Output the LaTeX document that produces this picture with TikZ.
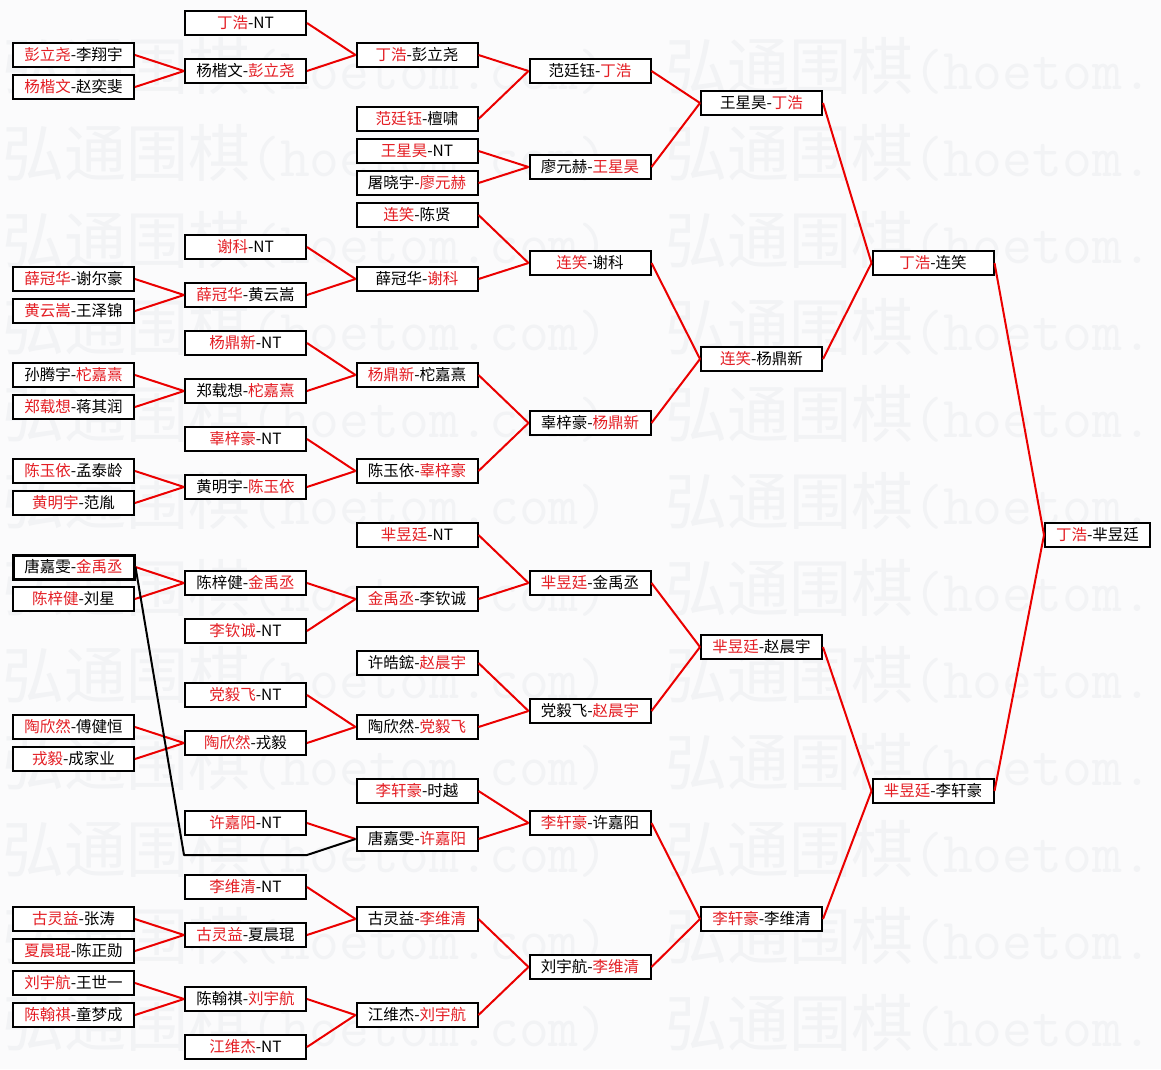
\documentclass[tikz,border=0pt]{standalone}
\usepackage{fontspec}
\setmainfont{Noto Sans CJK SC}
\newfontfamily\wmcjk{Noto Sans CJK SC}
\definecolor{wr}{RGB}{228,30,36}
\definecolor{ln}{RGB}{235,0,0}
\definecolor{wmc}{RGB}{242,243,245}
\definecolor{bgc}{RGB}{251,251,252}
\newcommand\rd[1]{\textcolor{wr}{#1}}
\newcommand\wmfull{{\wmcjk\fontsize{62}{62}\selectfont 弘通围棋\ttfamily\fontsize{58}{58}\selectfont(hoetom.com)}}
\newcommand\wmpart{{\wmcjk\fontsize{62}{62}\selectfont 弘通围棋\ttfamily\fontsize{58}{58}\selectfont(hoetom.}}
\begin{document}
\begin{tikzpicture}[x=1pt,y=-1pt,
  box/.style={draw=black, line width=2pt, fill=white, minimum width=121pt, minimum height=24pt, inner sep=0pt, font=\fontsize{15.5}{15.5}\selectfont},
  thickbox/.style={box, line width=3pt},
  finalbox/.style={box, minimum width=105pt},
  con/.style={draw=ln, line width=2pt, line join=round},
  lose/.style={draw=black, line width=2pt, line join=round},
  wm/.style={text=wmc, anchor=west, inner sep=0pt}]
\useasboundingbox[fill=bgc] (0,0) rectangle (1161,1069);
% watermark
\foreach \ii in {0,...,11}{
  \node[wm] (wml-\ii) at (2,{66+87*\ii}) {\wmfull};
  \node[wm] (wmr-\ii) at (665,{66+87*\ii}) {\wmpart};
}
% column 1
\node[box] (a1) at (73.5,55) {\rd{彭立尧}-李翔宇};
\node[box] (a2) at (73.5,87) {\rd{杨楷文}-赵奕斐};
\node[box] (a3) at (73.5,279) {\rd{薛冠华}-谢尔豪};
\node[box] (a4) at (73.5,311) {\rd{黄云嵩}-王泽锦};
\node[box] (a5) at (73.5,375) {孙腾宇-\rd{柁嘉熹}};
\node[box] (a6) at (73.5,407) {\rd{郑载想}-蒋其润};
\node[box] (a7) at (73.5,471) {\rd{陈玉依}-孟泰龄};
\node[box] (a8) at (73.5,503) {\rd{黄明宇}-范胤};
\node[thickbox] (a9) at (73.5,567) {唐嘉雯-\rd{金禹丞}};
\node[box] (a10) at (73.5,599) {\rd{陈梓健}-刘星};
\node[box] (a11) at (73.5,727) {\rd{陶欣然}-傅健恒};
\node[box] (a12) at (73.5,759) {\rd{戎毅}-成家业};
\node[box] (a13) at (73.5,919) {\rd{古灵益}-张涛};
\node[box] (a14) at (73.5,951) {\rd{夏晨琨}-陈正勋};
\node[box] (a15) at (73.5,983) {\rd{刘宇航}-王世一};
\node[box] (a16) at (73.5,1015) {\rd{陈翰祺}-童梦成};
% column 2
\node[box] (b1) at (245.5,23) {\rd{丁浩}-NT};
\node[box] (b2) at (245.5,71) {杨楷文-\rd{彭立尧}};
\node[box] (b3) at (245.5,247) {\rd{谢科}-NT};
\node[box] (b4) at (245.5,295) {\rd{薛冠华}-黄云嵩};
\node[box] (b5) at (245.5,343) {\rd{杨鼎新}-NT};
\node[box] (b6) at (245.5,391) {郑载想-\rd{柁嘉熹}};
\node[box] (b7) at (245.5,439) {\rd{辜梓豪}-NT};
\node[box] (b8) at (245.5,487) {黄明宇-\rd{陈玉依}};
\node[box] (b9) at (245.5,583) {陈梓健-\rd{金禹丞}};
\node[box] (b10) at (245.5,631) {\rd{李钦诚}-NT};
\node[box] (b11) at (245.5,695) {\rd{党毅飞}-NT};
\node[box] (b12) at (245.5,743) {\rd{陶欣然}-戎毅};
\node[box] (b13) at (245.5,823) {\rd{许嘉阳}-NT};
\node[box] (b14) at (245.5,887) {\rd{李维清}-NT};
\node[box] (b15) at (245.5,935) {\rd{古灵益}-夏晨琨};
\node[box] (b16) at (245.5,999) {陈翰祺-\rd{刘宇航}};
\node[box] (b17) at (245.5,1047) {\rd{江维杰}-NT};
% column 3
\node[box] (c1) at (417,55) {\rd{丁浩}-彭立尧};
\node[box] (c2) at (417,119) {\rd{范廷钰}-檀啸};
\node[box] (c3) at (417,151) {\rd{王星昊}-NT};
\node[box] (c4) at (417,183) {屠晓宇-\rd{廖元赫}};
\node[box] (c5) at (417,215) {\rd{连笑}-陈贤};
\node[box] (c6) at (417,279) {薛冠华-\rd{谢科}};
\node[box] (c7) at (417,375) {\rd{杨鼎新}-柁嘉熹};
\node[box] (c8) at (417,471) {陈玉依-\rd{辜梓豪}};
\node[box] (c9) at (417,535) {\rd{芈昱廷}-NT};
\node[box] (c10) at (417,599) {\rd{金禹丞}-李钦诚};
\node[box] (c11) at (417,663) {许皓鋐-\rd{赵晨宇}};
\node[box] (c12) at (417,727) {陶欣然-\rd{党毅飞}};
\node[box] (c13) at (417,791) {\rd{李轩豪}-时越};
\node[box] (c14) at (417,839) {唐嘉雯-\rd{许嘉阳}};
\node[box] (c15) at (417,919) {古灵益-\rd{李维清}};
\node[box] (c16) at (417,1015) {江维杰-\rd{刘宇航}};
% column 4
\node[box] (d1) at (590,71) {范廷钰-\rd{丁浩}};
\node[box] (d2) at (590,167) {廖元赫-\rd{王星昊}};
\node[box] (d3) at (590,263) {\rd{连笑}-谢科};
\node[box] (d4) at (590,423) {辜梓豪-\rd{杨鼎新}};
\node[box] (d5) at (590,583) {\rd{芈昱廷}-金禹丞};
\node[box] (d6) at (590,711) {党毅飞-\rd{赵晨宇}};
\node[box] (d7) at (590,823) {\rd{李轩豪}-许嘉阳};
\node[box] (d8) at (590,967) {刘宇航-\rd{李维清}};
% column 5
\node[box] (e1) at (761.5,103) {王星昊-\rd{丁浩}};
\node[box] (e2) at (761.5,359) {\rd{连笑}-杨鼎新};
\node[box] (e3) at (761.5,647) {\rd{芈昱廷}-赵晨宇};
\node[box] (e4) at (761.5,919) {\rd{李轩豪}-李维清};
% column 6
\node[box] (f1) at (933,263) {\rd{丁浩}-连笑};
\node[box] (f2) at (933,791) {\rd{芈昱廷}-李轩豪};
% final
\node[finalbox] (g1) at (1097.5,535) {\rd{丁浩}-芈昱廷};
% connectors col1 -> col2
\foreach \s/\t in {a1/b2,a2/b2,a3/b4,a4/b4,a5/b6,a6/b6,a7/b8,a8/b8,a9/b9,a10/b9,a11/b12,a12/b12,a13/b15,a14/b15,a15/b16,a16/b16}
  \draw[con] (\s.east) -- (\t.west);
% col2 -> col3
\foreach \s/\t in {b1/c1,b2/c1,b3/c6,b4/c6,b5/c7,b6/c7,b7/c8,b8/c8,b9/c10,b10/c10,b11/c12,b12/c12,b13/c14,b14/c15,b15/c15,b16/c16,b17/c16}
  \draw[con] (\s.east) -- (\t.west);
% col3 -> col4
\foreach \s/\t in {c1/d1,c2/d1,c3/d2,c4/d2,c5/d3,c6/d3,c7/d4,c8/d4,c9/d5,c10/d5,c11/d6,c12/d6,c13/d7,c14/d7,c15/d8,c16/d8}
  \draw[con] (\s.east) -- (\t.west);
% col4 -> col5
\foreach \s/\t in {d1/e1,d2/e1,d3/e2,d4/e2,d5/e3,d6/e3,d7/e4,d8/e4}
  \draw[con] (\s.east) -- (\t.west);
% col5 -> col6 -> final
\foreach \s/\t in {e1/f1,e2/f1,e3/f2,e4/f2,f1/g1,f2/g1}
  \draw[con] (\s.east) -- (\t.west);
% black loser connector
\coordinate (lb1) at (184,855);
\coordinate (lb2) at (307,855);
\draw[lose] (a9.east) -- (lb1) -- (lb2) -- (c14.west);
\end{tikzpicture}
\end{document}
